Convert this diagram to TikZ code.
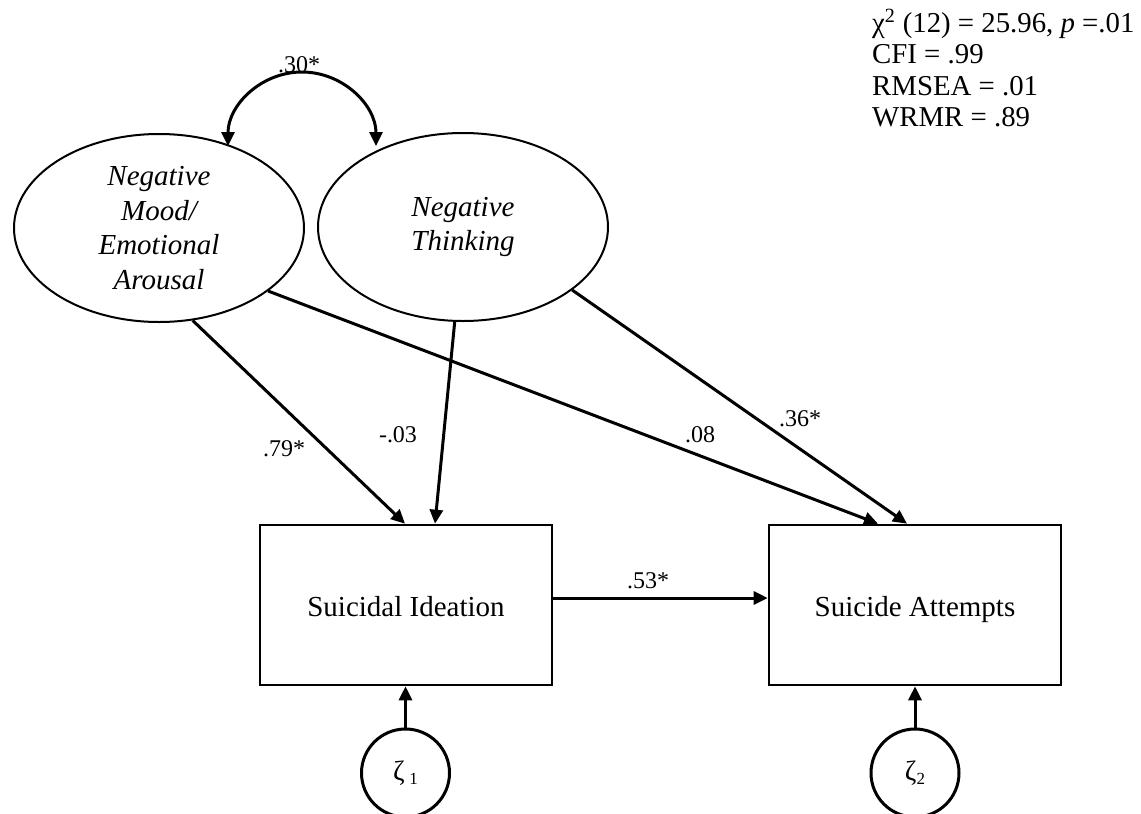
\documentclass[tikz,border=0pt]{standalone}
\usepackage{fontspec}
\setmainfont{Liberation Serif}
\usetikzlibrary{arrows.meta,shapes.geometric}
\begin{document}
\begin{tikzpicture}[x=1pt,y=1pt,
  latent/.style={ellipse,draw,line width=2pt,minimum width=290pt,minimum height=188pt,inner sep=0pt,align=center,font=\fontsize{29}{34.5}\selectfont\itshape},
  observed/.style={rectangle,draw,line width=2.6pt,minimum width=292pt,minimum height=160pt,text height=28pt,text depth=6pt,font=\fontsize{29}{34}\selectfont},
  disturb/.style={circle,draw,line width=3pt,minimum size=88pt,inner sep=0pt,font=\fontsize{28}{30}\selectfont},
  regpath/.style={line width=3pt,-{Triangle[length=14pt,width=13pt]}},
  corrpath/.style={line width=3pt,{Triangle[length=14pt,width=13pt]}-{Triangle[length=14pt,width=13pt]}},
  coef/.style={font=\fontsize{24}{26}\selectfont,anchor=base,inner sep=0pt},
  fitstat/.style={font=\fontsize{28.8}{32}\selectfont,anchor=base west,inner sep=0pt}]
\useasboundingbox (0,0) rectangle (1141,-814);

\node[latent] (e1) at (159,-228) {Negative\\Mood/\\Emotional\\Arousal};
\node[latent] (e2) at (463,-227) {Negative\\Thinking};
\node[observed] (b1) at (406,-605) {Suicidal Ideation};
\node[observed] (b2) at (915,-605) {Suicide Attempts};
\node[disturb] (z1) at (405.5,-773) {ζ\,\raisebox{-0.35ex}{\fontsize{17}{17}\selectfont 1}};
\node[disturb] (z2) at (915,-773) {ζ\raisebox{-0.35ex}{\fontsize{17}{17}\selectfont 2}};

\coordinate (c1) at (228,-146);
\coordinate (c2) at (376,-146);
\draw[corrpath] (c1) arc[start angle=180,end angle=0,radius=74];

\draw[regpath] (e1.-70) -- ([xshift=-1pt]b1.north);
\draw[regpath] (e2.-95) -- ([xshift=29pt]b1.north);
\draw[regpath] (e1.-30) -- ([xshift=-37pt]b2.north);
\draw[regpath] (e2.-30) -- ([xshift=-8pt]b2.north);
\draw[regpath] ([yshift=7pt]b1.east) -- ([yshift=7pt]b2.west);
\draw[regpath] (z1.north) -- (z1.north |- b1.south);
\draw[regpath] (z2.north) -- (b2.south);

\node[coef] (l30) at (299,-72) {.30*};
\node[coef] (l79) at (284,-456) {.79*};
\node[coef] (l03) at (398,-442) {-.03};
\node[coef] (l08) at (700,-442) {.08};
\node[coef] (l36) at (800,-426) {.36*};
\node[coef] (l53) at (648,-588) {.53*};

\node[fitstat] (s1) at (872,-32) {χ\textsuperscript{2} (12) = 25.96, \textit{p} =.01};
\node[fitstat] (s2) at (872,-63) {CFI = .99};
\node[fitstat] (s3) at (872,-95) {RMSEA = .01};
\node[fitstat] (s4) at (872,-126) {WRMR = .89};
\end{tikzpicture}
\end{document}
